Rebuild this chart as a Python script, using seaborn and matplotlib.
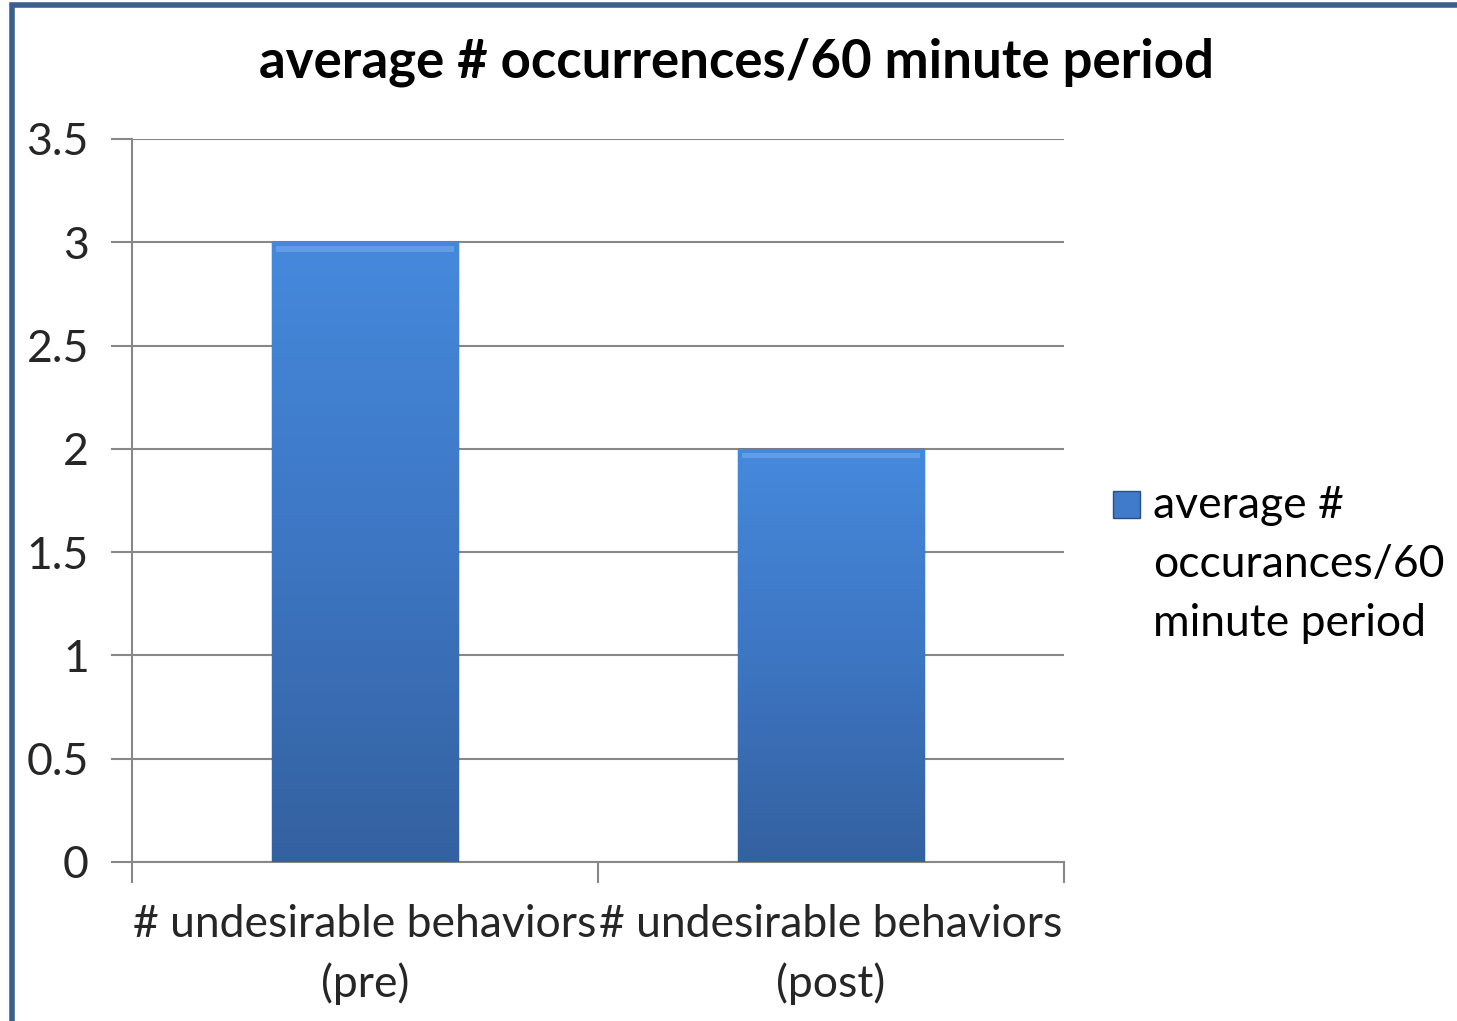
import numpy as np
import pandas as pd
import seaborn as sns
import matplotlib.pyplot as plt
from matplotlib.colors import LinearSegmentedColormap
from matplotlib.patches import Rectangle

# data
categories = ["# undesirable behaviors\n(pre)", "# undesirable behaviors\n(post)"]
values = [3, 2]
series_name = "average #\noccurances/60\nminute period"
title = "average # occurrences/60 minute period"
y_ticks = [0, 0.5, 1, 1.5, 2, 2.5, 3, 3.5]

df = pd.DataFrame({"category": categories, "value": values})

sns.set_style("white")
plt.rcParams["font.family"] = ["Lato", "DejaVu Sans"]

fig = plt.figure(figsize=(14.57, 10.21), dpi=100)
ax = fig.add_axes([132 / 1457, 1 - 862 / 1021, (1064 - 132) / 1457, (862 - 139) / 1021])

sns.barplot(data=df, x="category", y="value", color="#3F7ACB", width=0.4,
            ax=ax, zorder=3)

# gradient fill on each bar
cmap = LinearSegmentedColormap.from_list("bar", ["#3461A0", "#3D76C3", "#4689DC"])
grad = np.linspace(0, 1, 256).reshape(-1, 1)
for p in ax.patches:
    x0, y0 = p.get_x(), p.get_y()
    w, h = p.get_width(), p.get_height()
    im = ax.imshow(grad, cmap=cmap, aspect="auto", origin="lower",
                   extent=[x0, x0 + w, y0, y0 + h], zorder=4)
    im.set_clip_path(p)
    p.set_edgecolor("#2A4F80")
    p.set_linewidth(1.0)
    ax.add_patch(Rectangle((x0 + 0.01, y0 + h - 0.045), w - 0.02, 0.025,
                           color="#67A3E8", zorder=5, lw=0, alpha=0.8))

ax.set_xlim(-0.5, 1.5)
ax.set_ylim(0, 3.5)
ax.set_yticks(y_ticks)
ax.set_yticklabels(["0", "0.5", "1", "1.5", "2", "2.5", "3", "3.5"])
ax.set_xticks([-0.5, 0.5, 1.5], minor=False)
ax.set_xticklabels([])
ax.set_xticks([0, 1], minor=True)
ax.set_xticklabels(categories, minor=True, fontsize=32, linespacing=1.52)
ax.tick_params(axis="x", which="minor", bottom=True, length=0, pad=30)
ax.tick_params(axis="x", which="major", bottom=True, length=15, width=1.5,
               color="#888888")
ax.tick_params(axis="y", left=True, length=15, width=1.5, color="#888888",
               labelsize=32, pad=16)
ax.set_xlabel("")
ax.set_ylabel("")
ax.grid(axis="y", color="#888888", linewidth=1.5, zorder=0)
ax.set_axisbelow(True)
for s in ["top", "right"]:
    ax.spines[s].set_visible(False)
for s in ["left", "bottom"]:
    ax.spines[s].set_color("#888888")
    ax.spines[s].set_linewidth(1.5)

fig.text(736 / 1457, 1 - 62 / 1021, title, ha="center", va="center",
         fontsize=38, fontweight="bold", color="black")

# legend
fig.patches.append(Rectangle((1113 / 1457, 1 - 518 / 1021), 27 / 1457, 27 / 1021,
                             transform=fig.transFigure, facecolor="#3F7ACB",
                             edgecolor="#2A4F80", lw=1))
fig.text(1153 / 1457, 1 - 485 / 1021, series_name, ha="left", va="top",
         fontsize=32, linespacing=1.55, color="black")

# outer frame
fig.patches.append(Rectangle((11.5 / 1457, -0.1), 1.2, 1 - 5.5 / 1021 + 0.1,
                             transform=fig.transFigure, fill=False,
                             edgecolor="#3A5F8F", lw=4))

fig.savefig("out.png", dpi=100)
